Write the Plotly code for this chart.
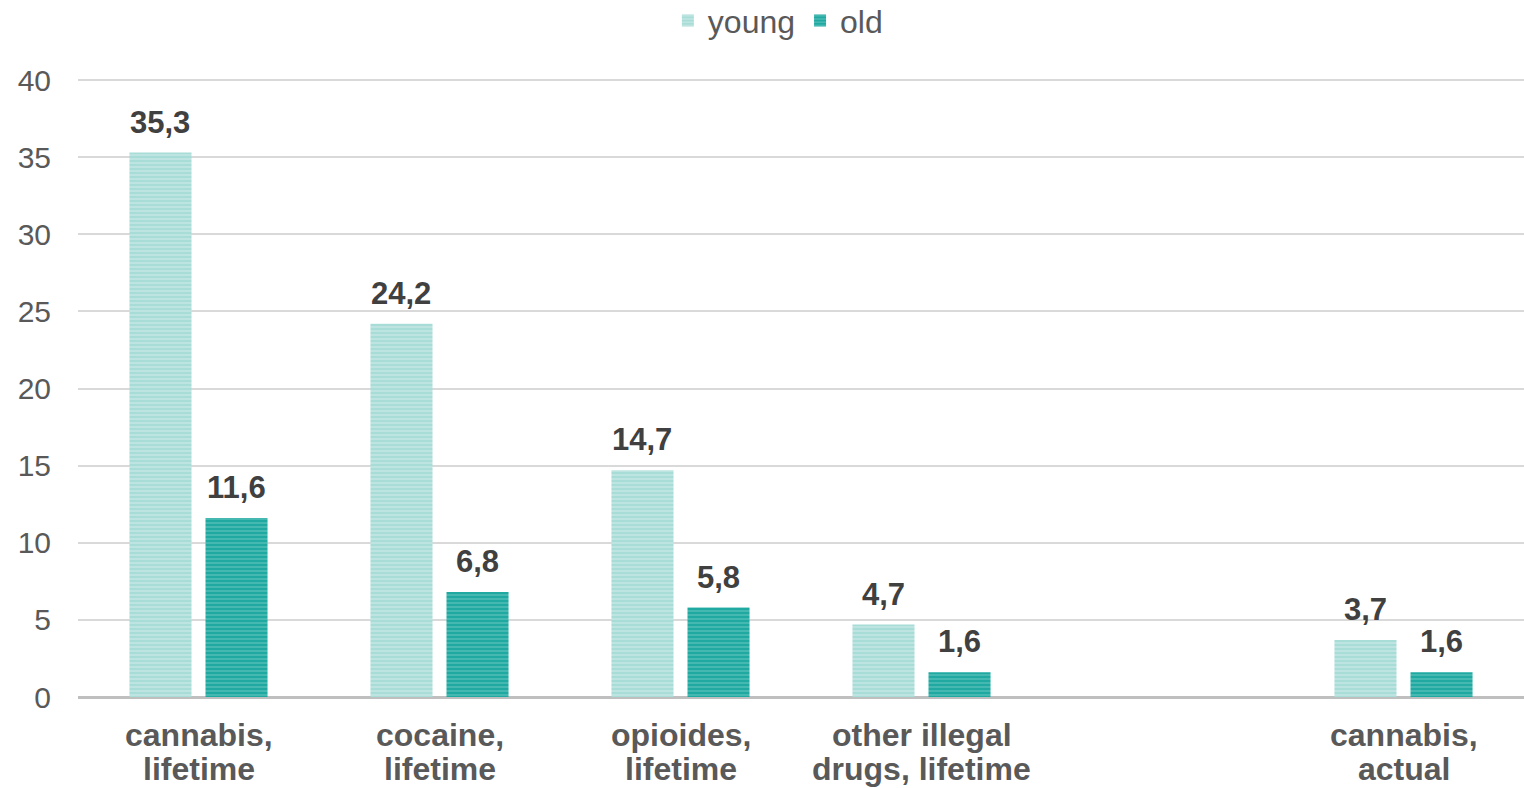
import plotly.graph_objects as go

categories = ["cannabis, lifetime", "cocaine, lifetime", "opioides, lifetime",
              "other illegal drugs, lifetime", " ", "cannabis, actual"]
label_line1 = ["cannabis,", "cocaine,", "opioides,", "other illegal", "", "cannabis,"]
label_line2 = ["lifetime", "lifetime", "lifetime", "drugs, lifetime", "", "actual"]
young = [35.3, 24.2, 14.7, 4.7, None, 3.7]
old = [11.6, 6.8, 5.8, 1.6, None, 1.6]
tick_vals = [0, 5, 10, 15, 20, 25, 30, 35, 40]

def fmt(v):
    return f"{v:.1f}".replace(".", ",")

FONT = "Liberation Sans"
W, H = 1524, 788
ML, MR, MT, MB = 78, 0, 77, 91
BARGAP, GROUPGAP = 0.369, 0.184

fig = go.Figure()
fig.add_trace(go.Bar(
    name="young", x=categories, y=young,
    marker=dict(color="#a8dcd7", line=dict(width=0),
                pattern=dict(shape="-", fillmode="overlay", fgcolor="#dcf1ee",
                             size=4, solidity=0.4)),
))
fig.add_trace(go.Bar(
    name="old", x=categories, y=old,
    marker=dict(color="#1fa9a1", line=dict(width=0),
                pattern=dict(shape="-", fillmode="overlay", fgcolor="#8ad4cd",
                             size=4, solidity=0.35)),
))

# value labels placed above each bar (offset derived from the group layout)
cat_w = (W - ML - MR) / len(categories)
slot = (1 - BARGAP) * cat_w / 2
annotations = []
for series, sign in ((young, -1), (old, 1)):
    for cat, v in zip(categories, series):
        if v is None:
            continue
        annotations.append(dict(
            x=cat, xref="x", y=v, yref="y", xshift=sign * slot / 2, yshift=11,
            text=f"<b>{fmt(v)}</b>", showarrow=False, xanchor="center", yanchor="bottom",
            font=dict(size=31, color="#404040", family=FONT)))

for cat, l1, l2 in zip(categories, label_line1, label_line2):
    for txt, shift in ((l1, -38), (l2, -72)):
        if txt:
            annotations.append(dict(
                x=cat, xref="x", y=0, yref="paper", yshift=shift,
                text=f"<b>{txt}</b>", showarrow=False, xanchor="center", yanchor="middle",
                font=dict(size=32, color="#595959", family=FONT)))

fig.update_layout(
    width=W, height=H,
    paper_bgcolor="white", plot_bgcolor="white",
    margin=dict(l=ML, r=MR, t=MT, b=MB, autoexpand=False),
    barmode="group", bargap=BARGAP, bargroupgap=GROUPGAP,
    font=dict(family=FONT, color="#595959"),
    legend=dict(orientation="h", x=0.484, xanchor="center", y=1.135, yanchor="top",
                font=dict(size=32, color="#595959"), itemwidth=30,
                traceorder="normal"),
    xaxis=dict(showticklabels=False, showgrid=False, ticks="", showline=False),
    yaxis=dict(range=[0, 40.2], tickvals=tick_vals, showgrid=True, gridcolor="#d9d9d9",
               gridwidth=1.5, zeroline=True, zerolinecolor="#bfbfbf", zerolinewidth=3,
               tickfont=dict(size=30, color="#595959", family=FONT), ticks="",
               ticklabelstandoff=26),
    annotations=annotations,
)

fig.write_html("out.html", config={"displayModeBar": False},
               post_script="document.body.style.margin='0';document.body.style.overflow='hidden';")
